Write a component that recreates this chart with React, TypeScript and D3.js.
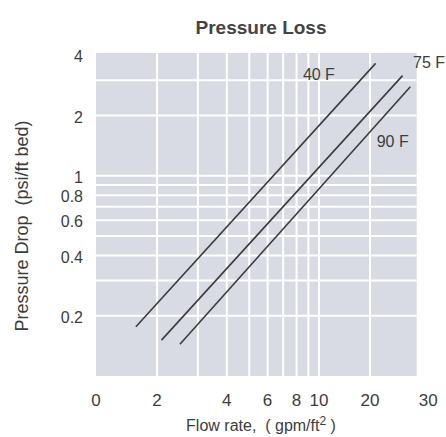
import React from "react";
import * as d3 from "d3";

// ---- data ----
const seriesNames = ["40 F", "75 F", "90 F"];
// flow rate (gpm/ft²) at start/end of each line
const flowStart = [1.62, 2.09, 2.51];
const flowEnd = [20.8, 25.1, 26.5];
// pressure drop (psi/ft bed) at start/end
const dropStart = [0.176, 0.151, 0.144];
const dropEnd = [3.64, 3.16, 2.78];
// annotation anchors (data units)
const labelFlow = [8.52, 27.0, 20.95];
const labelDrop = [3.0, 3.45, 1.39];

const xTickValues = [1.09, 2, 4, 6, 8, 10, 20, 30];
const xTickLabels = ["0", "2", "4", "6", "8", "10", "20", "30"];
const xGridValues = [2, 3, 4, 5, 6, 7, 8, 9, 10, 20];
const yTickValues = [4, 2, 1, 0.8, 0.6, 0.4, 0.2];
const yTickLabels = ["4", "2", "1", "0.8", "0.6", "0.4", "0.2"];
const yGridValues = [3, 2, 1, 0.9, 0.8, 0.7, 0.6, 0.5, 0.4, 0.3, 0.2];

const xDomain = [1.09, 10, 20, 27.7];
const yDomain = [0.1, 4.1];

const W = 446;
const H = 437;
const left = 96;
const right = 416.7;
const top = 53;
const bottom = 376;

export default function App() {
  const x = d3
    .scaleLog()
    .domain(xDomain)
    .range([left, 319, 370, right]);
  const y = d3.scaleLog().domain(yDomain).range([bottom, top]);

  const line = d3
    .line<[number, number]>()
    .x((d) => x(d[0]))
    .y((d) => y(d[1]));

  const font = "'Liberation Sans', Arial, Helvetica, sans-serif";
  const textColor = "#3d3d3d";

  return (
    <svg
      width={W}
      height={H}
      style={{ position: "absolute", left: 0, top: 0, background: "#fff" }}
      fontFamily={font}
    >
      <text
        x={261}
        y={34}
        textAnchor="middle"
        fontSize={19}
        fontWeight="bold"
        fill="#444"
      >
        Pressure Loss
      </text>

      <rect
        x={x(xDomain[0])}
        y={y(yDomain[1])}
        width={x(xDomain[3]) - x(xDomain[0])}
        height={y(yDomain[0]) - y(yDomain[1])}
        fill="#d8dbe3"
      />

      {yGridValues.map((v) => (
        <line
          key={"yg" + v}
          x1={x(xDomain[0])}
          x2={x(xDomain[3])}
          y1={y(v)}
          y2={y(v)}
          stroke="#ffffff"
          strokeWidth={2}
        />
      ))}
      {xGridValues.map((v) => (
        <line
          key={"xg" + v}
          x1={x(v)}
          x2={x(v)}
          y1={y(yDomain[0])}
          y2={y(yDomain[1])}
          stroke="#ffffff"
          strokeWidth={2}
        />
      ))}

      {seriesNames.map((name, i) => (
        <path
          key={name}
          d={
            line([
              [flowStart[i], dropStart[i]],
              [flowEnd[i], dropEnd[i]],
            ]) || ""
          }
          stroke="#3c3c3c"
          strokeWidth={1.6}
          fill="none"
        />
      ))}

      {seriesNames.map((name, i) => (
        <text
          key={"lbl" + name}
          x={x(labelFlow[i])}
          y={y(labelDrop[i])}
          fontSize={16}
          fill={textColor}
        >
          {name}
        </text>
      ))}

      {yTickValues.map((v, i) => (
        <text
          key={"yt" + v}
          x={83}
          y={y(v)}
          dy="0.45em"
          textAnchor="end"
          fontSize={16}
          fill={textColor}
        >
          {yTickLabels[i]}
        </text>
      ))}

      {xTickValues.map((v, i) => (
        <text
          key={"xt" + v}
          x={x(v)}
          y={406}
          textAnchor="middle"
          fontSize={17}
          fill={textColor}
        >
          {xTickLabels[i]}
        </text>
      ))}

      <text
        x={261}
        y={431}
        textAnchor="middle"
        fontSize={16}
        fill={textColor}
        style={{ whiteSpace: "pre" }}
      >
        {"Flow rate,  ( gpm/ft"}
        <tspan fontSize={12} dy={-6}>
          2
        </tspan>
        <tspan dy={6}>{" )"}</tspan>
      </text>

      <text
        transform={`translate(28, 226) rotate(-90)`}
        textAnchor="middle"
        fontSize={18}
        fill={textColor}
        style={{ whiteSpace: "pre" }}
      >
        {"Pressure Drop  (psi/ft bed)"}
      </text>
    </svg>
  );
}
